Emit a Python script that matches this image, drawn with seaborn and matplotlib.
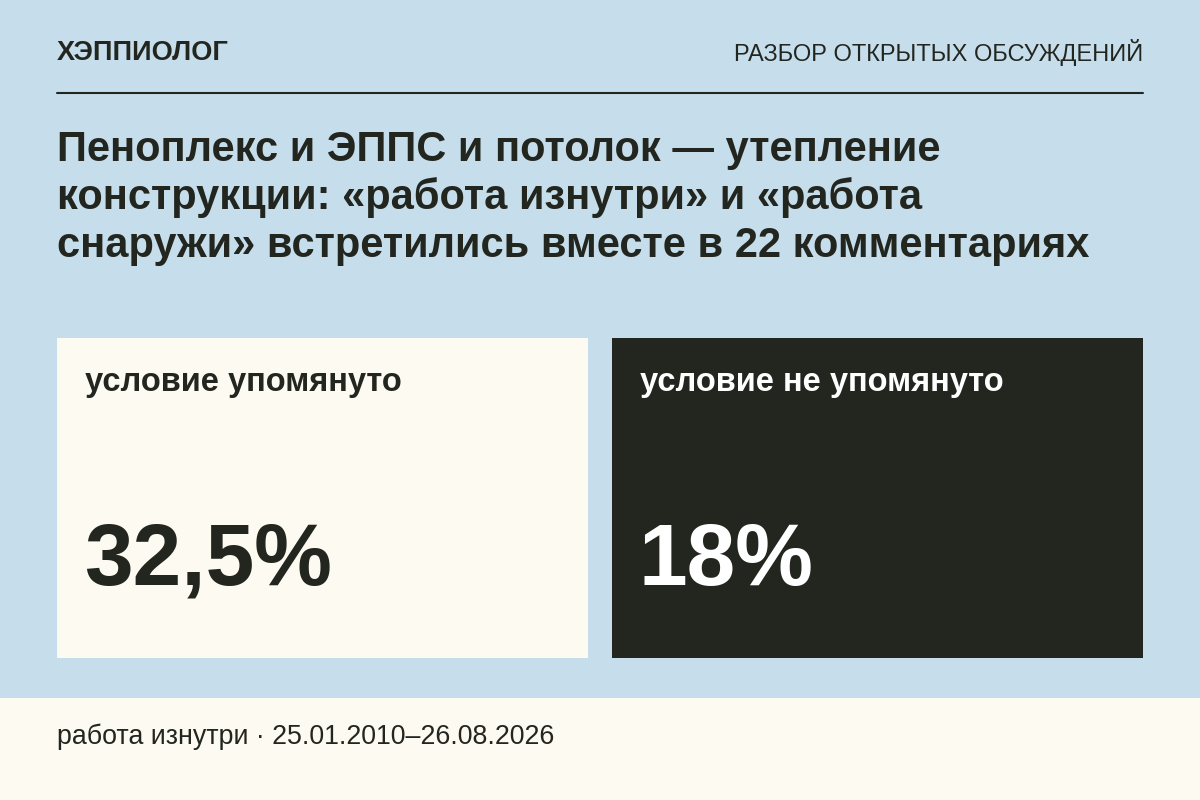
import matplotlib
matplotlib.use("Agg")
import matplotlib.pyplot as plt
import seaborn as sns
from matplotlib.patches import Rectangle

sns.set_theme(style="white")
plt.rcParams['font.family'] = ['Liberation Sans', 'DejaVu Sans']

brand = "ХЭППИОЛОГ"
section = "РАЗБОР ОТКРЫТЫХ ОБСУЖДЕНИЙ"
title_lines = ["Пеноплекс и ЭППС и потолок — утепление",
               "конструкции: «работа изнутри» и «работа",
               "снаружи» встретились вместе в 22 комментариях"]
categories = ["условие упомянуто", "условие не упомянуто"]
values = ["32,5%", "18%"]
footer = "работа изнутри · 25.01.2010–26.08.2026"

BG = "#c6deec"
CREAM = "#fdfaf2"
DARK = "#23261f"

fig = plt.figure(figsize=(12, 8), dpi=100, facecolor=BG)
ax = fig.add_axes([0, 0, 1, 1])
ax.set_xlim(0, 1200); ax.set_ylim(800, 0); ax.axis("off")
ax.set_facecolor(BG)

ax.add_patch(Rectangle((0, 698), 1200, 102, color=CREAM, lw=0))
ax.text(57, 53, brand, fontsize=19.5, fontweight="bold", color=DARK, va="center")
ax.text(1143, 53, section, fontsize=17, color=DARK, va="center", ha="right")
ax.plot([57, 1143], [93, 93], color=DARK, lw=1.5)
for i, line in enumerate(title_lines):
    ax.text(57, 150 + i * 48, line, fontsize=30, fontweight="bold", color=DARK, va="center")

cards = [(57, CREAM, DARK), (612, DARK, "white")]
for (x, fc, tc), cat, val in zip(cards, categories, values):
    ax.add_patch(Rectangle((x, 338), 531, 320, color=fc, lw=0))
    ax.text(x + 28, 383, cat, fontsize=23.5, fontweight="bold", color=tc, va="center")
    ax.text(x + 27, 562, val, fontsize=63, fontweight="bold", color=tc, va="center")

ax.text(57, 737, footer, fontsize=19.3, color=DARK, va="center")
fig.savefig("out.png", dpi=100, facecolor=BG)
